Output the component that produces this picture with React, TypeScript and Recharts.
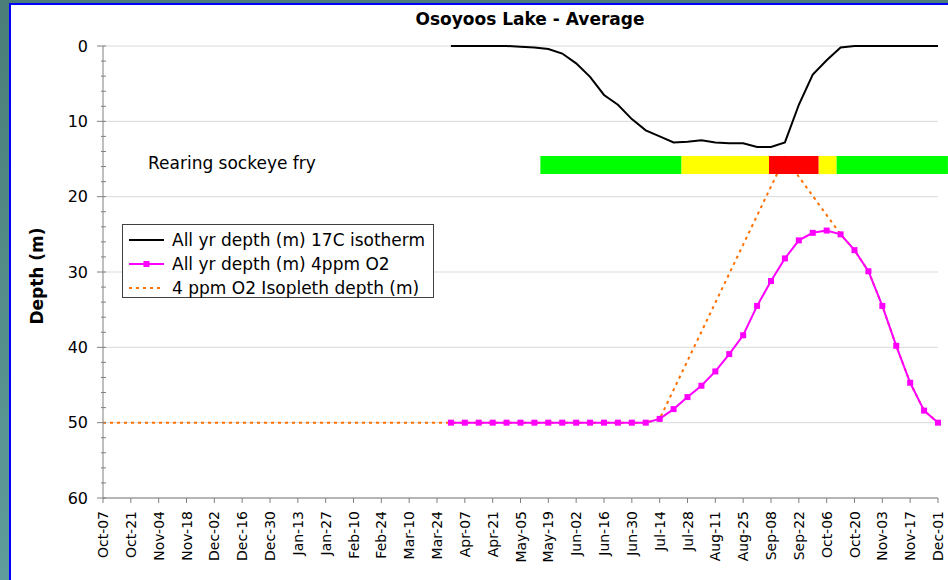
import React from 'react';
import {
  LineChart,
  Line,
  XAxis,
  YAxis,
  CartesianGrid,
  ReferenceArea,
  Legend,
} from 'recharts';

// days since Oct-07, one sample per week
const weekDays = [
  0, 7, 14, 21, 28, 35, 42, 49, 56, 63, 70, 77, 84, 91, 98, 105, 112, 119, 126, 133,
  140, 147, 154, 161, 168, 175, 182, 189, 196, 203, 210, 217, 224, 231, 238, 245, 252,
  259, 266, 273, 280, 287, 294, 301, 308, 315, 322, 329, 336, 343, 350, 357, 364, 371,
  378, 385, 392, 399, 406, 413, 420,
];

// profile series start at week 25 (Mar-31)
const profileStartWeek = 25;

const isotherm17C = [
  0, 0, 0, 0, 0, 0.1, 0.2, 0.4, 1.0, 2.3, 4.1, 6.5, 7.8, 9.7, 11.2, 12.0, 12.8, 12.7,
  12.5, 12.8, 12.9, 12.9, 13.4, 13.4, 12.8, 7.8, 3.8, 1.9, 0.2, 0, 0, 0, 0, 0, 0, 0,
];

const o2Depth4ppm = [
  50, 50, 50, 50, 50, 50, 50, 50, 50, 50, 50, 50, 50, 50, 50, 49.5, 48.2, 46.6, 45.1,
  43.2, 40.9, 38.4, 34.5, 31.2, 28.2, 25.8, 24.8, 24.5, 25.0, 27.1, 29.9, 34.5, 39.8,
  44.7, 48.4, 50,
];

const isoplethDepth = [
  50, 50, 50, 50, 50, 50, 50, 50, 50, 50, 50, 50, 50, 50, 50, 50, 50, 50, 50, 50,
  50, 50, 50, 50, 50, 50, 50, 50, 50, 50, 50, 50, 50, 50, 50, 50, 50, 50, 50, 50,
  49.5, null, null, null, null, null, null, null, null, 14.8, null, null, null, 25.0,
  27.1, 29.9, 34.5, 39.8, 44.7, 48.4, 50,
];

const tickLabels = [
  'Oct-07', 'Oct-21', 'Nov-04', 'Nov-18', 'Dec-02', 'Dec-16', 'Dec-30', 'Jan-13',
  'Jan-27', 'Feb-10', 'Feb-24', 'Mar-10', 'Mar-24', 'Apr-07', 'Apr-21', 'May-05',
  'May-19', 'Jun-02', 'Jun-16', 'Jun-30', 'Jul-14', 'Jul-28', 'Aug-11', 'Aug-25',
  'Sep-08', 'Sep-22', 'Oct-06', 'Oct-20', 'Nov-03', 'Nov-17', 'Dec-01',
];

const depthTicks = [0, 10, 20, 30, 40, 50, 60];

// rearing sockeye fry conditions (day ranges)
const rearingStart = [220, 291, 335, 360, 369];
const rearingEnd = [291, 335, 360, 369, 425];
const rearingStatus = ['good', 'marginal', 'poor', 'marginal', 'good'];
const rearingDepth = [14.6, 17.0];

const statusColor: Record<string, string> = {
  good: '#00ff00',
  marginal: '#ffff00',
  poor: '#ff0000',
};

const chartData = weekDays.map((day, i) => ({
  day,
  iso17: i >= profileStartWeek ? isotherm17C[i - profileStartWeek] : null,
  o2: i >= profileStartWeek ? o2Depth4ppm[i - profileStartWeek] : null,
  isopleth: isoplethDepth[i],
}));

const xTicks = tickLabels.map((_, i) => i * 14);
const yTicks = Array.from({ length: 31 }, (_, i) => i * 2);

const FONT = '"DejaVu Sans", Verdana, sans-serif';
const AXIS = '#808080';

const DepthTick = (props: any) => {
  const { x, y, payload } = props;
  const axisX = x + 15;
  const major = payload.value % 10 === 0;
  return (
    <g>
      <line x1={axisX - (major ? 6 : 2)} x2={axisX + 3} y1={y} y2={y} stroke={AXIS} />
      {major && (
        <text x={x} y={y} dy="0.36em" textAnchor="end" fontSize={16} fill="#000">
          {payload.value}
        </text>
      )}
    </g>
  );
};

const DateTick = (props: any) => {
  const { x, y, index } = props;
  return (
    <text
      x={x}
      y={y}
      transform={`rotate(-90, ${x}, ${y})`}
      textAnchor="end"
      dy="0.36em"
      fontSize={14}
      fill="#000"
    >
      {tickLabels[index]}
    </text>
  );
};

const Square = (props: any) => {
  const { cx, cy, index } = props;
  if (cy == null || cx == null) return <g key={`sq-${index}`} />;
  return <rect key={`sq-${index}`} x={cx - 3} y={cy - 3} width={6} height={6} fill="#ff00ff" />;
};

const legendItems = [
  { name: 'All yr depth (m) 17C isotherm', color: '#000000', dash: undefined, marker: false },
  { name: 'All yr depth (m) 4ppm O2', color: '#ff00ff', dash: undefined, marker: true },
  { name: '4 ppm O2 Isopleth depth (m)', color: '#ff7000', dash: '3 4', marker: false },
];

const ChartLegend = () => (
  <div
    style={{
      boxSizing: 'border-box',
      width: 312,
      height: 74,
      border: '1px solid #404040',
      background: '#fff',
      paddingTop: 3,
      fontFamily: FONT,
      fontSize: 17,
      color: '#000',
    }}
  >
    {legendItems.map((item) => (
      <div key={item.name} style={{ display: 'flex', alignItems: 'center', height: 24 }}>
        <svg width={44} height={10} style={{ marginLeft: 5, flex: 'none' }}>
          <line x1={1} x2={36} y1={5} y2={5} stroke={item.color} strokeWidth={2} strokeDasharray={item.dash} />
          {item.marker && <rect x={15.5} y={2} width={6} height={6} fill={item.color} />}
        </svg>
        <span style={{ whiteSpace: 'nowrap' }}>{item.name}</span>
      </div>
    ))}
  </div>
);

const DepthLabel = (props: any) => {
  const { viewBox } = props;
  const cx = viewBox.x + 37;
  const cy = viewBox.y + viewBox.height / 2 + 4;
  return (
    <text
      x={cx}
      y={cy}
      transform={`rotate(-90, ${cx}, ${cy})`}
      textAnchor="middle"
      dy="0.36em"
      fontSize={17}
      fontWeight={700}
      fill="#000"
    >
      Depth (m)
    </text>
  );
};

export default function App() {
  return (
    <div
      style={{
        position: 'absolute',
        left: 0,
        top: 0,
        width: 948,
        height: 580,
        overflow: 'hidden',
        background: 'linear-gradient(#4a7d77, #5e9d9b)',
        fontFamily: FONT,
      }}
    >
      <div
        style={{
          position: 'absolute',
          left: 9,
          top: 3,
          width: 960,
          height: 600,
          background: '#fff',
          borderLeft: '2px solid #0000ff',
          borderTop: '2px solid #0000ff',
        }}
      />
      <div
        style={{
          position: 'absolute',
          left: 0,
          width: 1060,
          top: 9,
          textAlign: 'center',
          fontSize: 17,
          fontWeight: 700,
          lineHeight: '20px',
          color: '#000',
        }}
      >
        Osoyoos Lake - Average
      </div>
      <div
        style={{
          position: 'absolute',
          left: 148,
          top: 153,
          fontSize: 17,
          lineHeight: '20px',
          color: '#000',
        }}
      >
        Rearing sockeye fry
      </div>
      <div style={{ position: 'absolute', left: 0, top: 0 }}>
        <LineChart
          width={948}
          height={580}
          data={chartData}
          margin={{ top: 46, right: 10, bottom: 0, left: 0 }}
        >
          <CartesianGrid vertical={false} horizontalValues={depthTicks} stroke="#d9d9d9" />
          <XAxis
            dataKey="day"
            type="number"
            domain={[0, 420]}
            ticks={xTicks}
            interval={0}
            height={82}
            tickSize={5}
            tickMargin={8}
            stroke={AXIS}
            tick={<DateTick />}
          />
          <YAxis
            type="number"
            domain={[0, 60]}
            reversed
            ticks={yTicks}
            interval={0}
            width={103}
            tickSize={6}
            tickMargin={9}
            tickLine={false}
            stroke={AXIS}
            tick={<DepthTick />}
            label={<DepthLabel />}
          />
          <Legend
            layout="vertical"
            align="center"
            verticalAlign="middle"
            content={<ChartLegend />}
            wrapperStyle={{ left: 122, top: 224, width: 312, height: 74 }}
          />
          <Line
            dataKey="isopleth"
            stroke="#ff7000"
            strokeWidth={2}
            strokeDasharray="3 4"
            dot={false}
            connectNulls
            isAnimationActive={false}
          />
          <Line
            dataKey="o2"
            stroke="#ff00ff"
            strokeWidth={2}
            dot={Square}
            isAnimationActive={false}
          />
          <Line
            dataKey="iso17"
            stroke="#000000"
            strokeWidth={2}
            dot={false}
            isAnimationActive={false}
          />
          {rearingStart.map((start, i) => (
            <ReferenceArea
              key={start}
              x1={start}
              x2={rearingEnd[i]}
              y1={rearingDepth[0]}
              y2={rearingDepth[1]}
              fill={statusColor[rearingStatus[i]]}
              fillOpacity={1}
              stroke="none"
              ifOverflow="visible"
              zIndex={1500}
            />
          ))}
        </LineChart>
      </div>
    </div>
  );
}
